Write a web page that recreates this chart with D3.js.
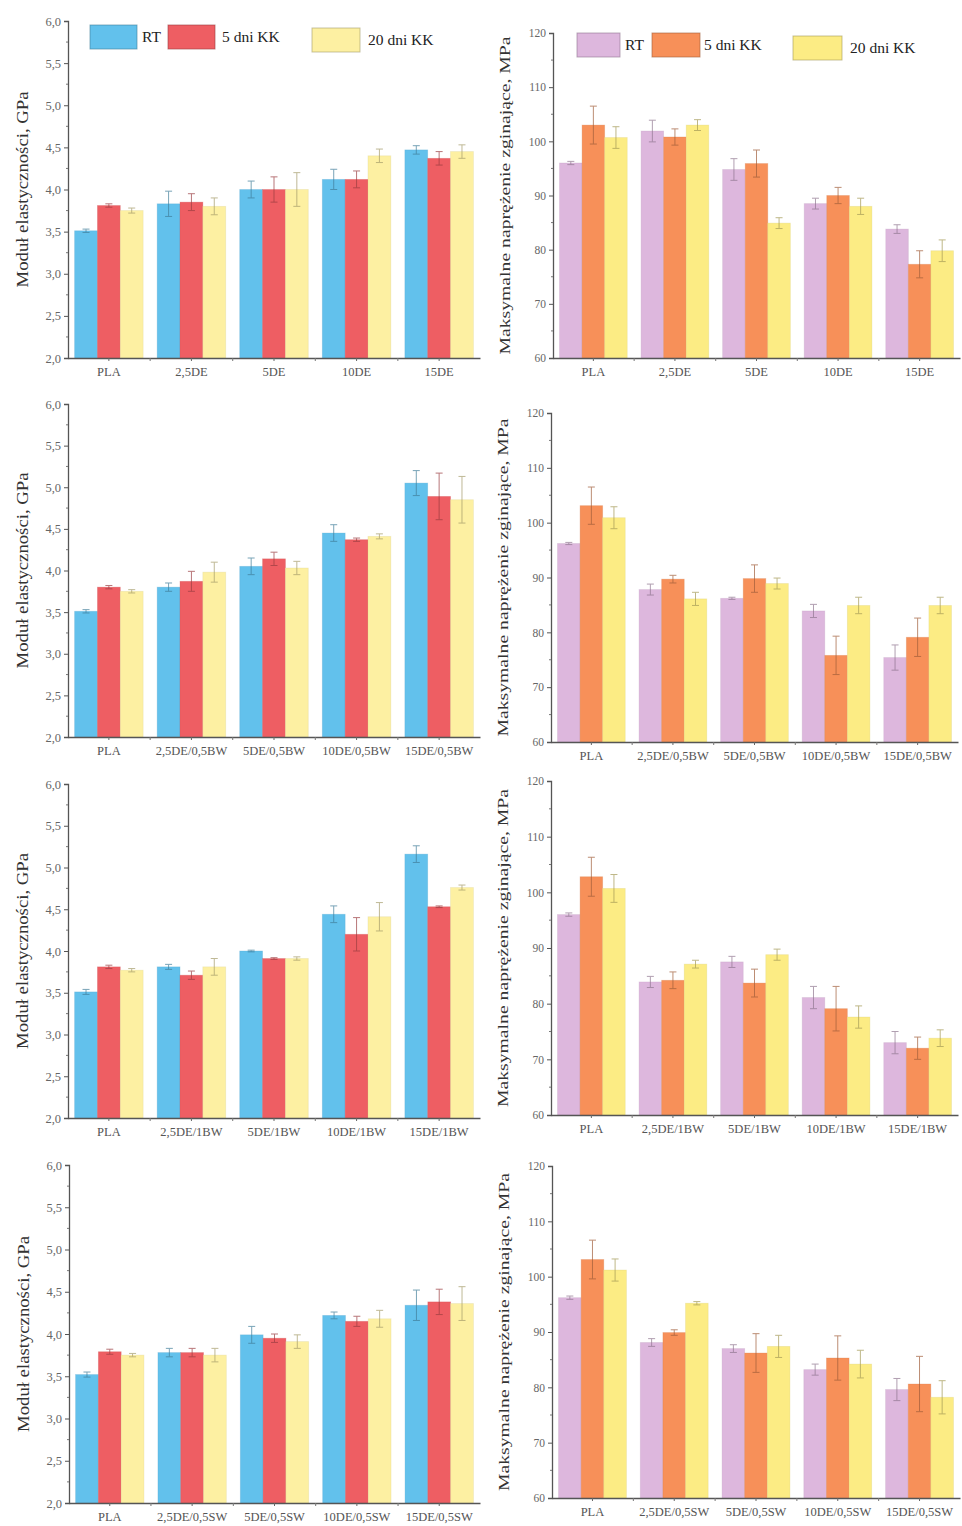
<!DOCTYPE html>
<html lang="pl">
<head>
<meta charset="UTF-8">
<script src="https://cdn.jsdelivr.net/npm/d3@7"></script>
<title>Moduł i naprężenie zginające</title>
<style>
    html, body {
        margin: 0;
        padding: 0;
        background: #ffffff;
    }
    svg text {
        font-family: "Liberation Serif", "DejaVu Serif", serif;
    }
</style>
</head>
<body>
<div id="chart"></div>
<script>

// categories
const categoriesDE   = ["PLA", "2,5DE", "5DE", "10DE", "15DE"];
const categoriesBW05 = ["PLA", "2,5DE/0,5BW", "5DE/0,5BW", "10DE/0,5BW", "15DE/0,5BW"];
const categoriesBW1  = ["PLA", "2,5DE/1BW", "5DE/1BW", "10DE/1BW", "15DE/1BW"];
const categoriesSW05 = ["PLA", "2,5DE/0,5SW", "5DE/0,5SW", "10DE/0,5SW", "15DE/0,5SW"];

const seriesNames = ["RT", "5 dni KK", "20 dni KK"];

const modulusTicks  = [2.0, 2.5, 3.0, 3.5, 4.0, 4.5, 5.0, 5.5, 6.0];
const strengthTicks = [60, 70, 80, 90, 100, 110, 120];

// values per series: [RT], [5 dni KK], [20 dni KK]
const modulusDE = [[3.51, 3.83, 4.00, 4.12, 4.47], [3.81, 3.85, 4.00, 4.12, 4.37], [3.75, 3.80, 4.00, 4.40, 4.45]];
const modulusDEErr = [[0.02, 0.15, 0.10, 0.12, 0.05], [0.02, 0.10, 0.15, 0.10, 0.08], [0.03, 0.10, 0.20, 0.08, 0.08]];
const strengthDE = [[96.0, 101.9, 94.8, 88.5, 83.8], [103.0, 100.8, 95.9, 90.0, 77.3], [100.7, 103.0, 84.9, 88.0, 79.8]];
const strengthDEErr = [[0.3, 2.0, 2.0, 1.0, 0.8], [3.5, 1.5, 2.5, 1.5, 2.5], [2.0, 1.0, 1.0, 1.5, 2.0]];

const modulusBW05 = [[3.51, 3.80, 4.05, 4.45, 5.05], [3.80, 3.87, 4.14, 4.37, 4.89], [3.75, 3.98, 4.03, 4.41, 4.85]];
const modulusBW05Err = [[0.02, 0.05, 0.10, 0.10, 0.15], [0.02, 0.12, 0.08, 0.02, 0.28], [0.02, 0.12, 0.08, 0.03, 0.28]];
const strengthBW05 = [[96.2, 87.8, 86.2, 83.9, 75.4], [103.1, 89.7, 89.8, 75.8, 79.1], [100.9, 86.1, 88.9, 84.9, 84.9]];
const strengthBW05Err = [[0.2, 1.0, 0.2, 1.2, 2.3], [3.4, 0.7, 2.5, 3.5, 3.5], [2.0, 1.2, 1.0, 1.5, 1.5]];

const modulusBW1 = [[3.51, 3.81, 4.00, 4.44, 5.16], [3.81, 3.71, 3.91, 4.20, 4.53], [3.77, 3.81, 3.91, 4.41, 4.76]];
const modulusBW1Err = [[0.03, 0.03, 0.01, 0.10, 0.10], [0.02, 0.05, 0.01, 0.20, 0.01], [0.02, 0.10, 0.02, 0.17, 0.03]];
const strengthBW1 = [[96.0, 83.9, 87.5, 81.1, 73.0], [102.8, 84.2, 83.7, 79.1, 72.0], [100.7, 87.1, 88.8, 77.6, 73.8]];
const strengthBW1Err = [[0.3, 1.0, 1.0, 2.0, 2.0], [3.5, 1.5, 2.5, 4.0, 2.0], [2.5, 0.7, 1.0, 2.0, 1.5]];

const modulusSW05 = [[3.52, 3.78, 3.99, 4.22, 4.34], [3.79, 3.78, 3.95, 4.15, 4.38], [3.75, 3.75, 3.91, 4.18, 4.36]];
const modulusSW05Err = [[0.03, 0.05, 0.10, 0.04, 0.18], [0.03, 0.05, 0.05, 0.06, 0.15], [0.02, 0.08, 0.08, 0.10, 0.20]];
const strengthSW05 = [[96.2, 88.1, 87.0, 83.2, 79.6], [103.1, 89.9, 86.2, 85.3, 80.6], [101.2, 95.2, 87.4, 84.2, 78.2]];
const strengthSW05Err = [[0.3, 0.7, 0.7, 1.0, 2.0], [3.5, 0.5, 3.5, 4.0, 5.0], [2.0, 0.3, 2.0, 2.5, 3.0]];

const modulusColors  = ["#62c1ec", "#ee5e63", "#fdf0a2"];
const strengthColors = ["#ddb7dd", "#f79059", "#fcec84"];

const width = 962, height = 1526;

const svg = d3.select("#chart").append("svg")
    .attr("width", width)
    .attr("height", height);

// one entry per panel: data + where it sits on the page
const panels = [
    {cats: categoriesDE,   vals: modulusDE,    errs: modulusDEErr,    kind: "mod", x0: 68,  x1: 480, y0: 21,   y1: 358,  legend: true},
    {cats: categoriesDE,   vals: strengthDE,   errs: strengthDEErr,   kind: "str", x0: 553, x1: 960, y0: 33,   y1: 358,  legend: true},
    {cats: categoriesBW05, vals: modulusBW05,  errs: modulusBW05Err,  kind: "mod", x0: 68,  x1: 480, y0: 404,  y1: 737},
    {cats: categoriesBW05, vals: strengthBW05, errs: strengthBW05Err, kind: "str", x0: 551, x1: 958, y0: 413,  y1: 742},
    {cats: categoriesBW1,  vals: modulusBW1,   errs: modulusBW1Err,   kind: "mod", x0: 68,  x1: 480, y0: 784,  y1: 1118},
    {cats: categoriesBW1,  vals: strengthBW1,  errs: strengthBW1Err,  kind: "str", x0: 551, x1: 958, y0: 781,  y1: 1115},
    {cats: categoriesSW05, vals: modulusSW05,  errs: modulusSW05Err,  kind: "mod", x0: 69,  x1: 480, y0: 1165, y1: 1503},
    {cats: categoriesSW05, vals: strengthSW05, errs: strengthSW05Err, kind: "str", x0: 552, x1: 960, y0: 1166, y1: 1498}
];

const fmt = d => d3.format(".1f")(d).replace(".", ",");

panels.forEach(p => {
    const isMod = p.kind === "mod";
    const colors = isMod ? modulusColors : strengthColors;
    const ticks = isMod ? modulusTicks : strengthTicks;

    const y = d3.scaleLinear()
        .domain(d3.extent(ticks))
        .range([p.y1, p.y0]);

    const x = d3.scaleBand()
        .domain(p.cats)
        .range([p.x0, p.x1])
        .paddingInner(0.17)
        .paddingOuter(0.08);

    const xs = d3.scaleBand()
        .domain(d3.range(seriesNames.length))
        .range([0, x.bandwidth()]);

    const g = svg.append("g");

    // bars
    const rows = [];
    p.vals.forEach((vals, s) => vals.forEach((v, i) => rows.push({s, i, v, e: p.errs[s][i]})));

    g.selectAll("rect.bar")
        .data(rows)
        .join("rect")
        .attr("class", "bar")
        .attr("x", d => x(p.cats[d.i]) + xs(d.s))
        .attr("y", d => y(d.v))
        .attr("width", xs.bandwidth())
        .attr("height", d => y(ticks[0]) - y(d.v))
        .attr("fill", d => colors[d.s])
        .attr("stroke", d => d3.color(colors[d.s]).darker(0.4))
        .attr("stroke-opacity", 0.35)
        .attr("stroke-width", 0.8);

    // error bars
    const eb = g.selectAll("g.err")
        .data(rows)
        .join("g")
        .attr("class", "err")
        .attr("stroke", d => d3.color(colors[d.s]).darker(1.2))
        .attr("stroke-width", 1)
        .attr("opacity", 0.7);

    const cx = d => x(p.cats[d.i]) + xs(d.s) + xs.bandwidth() / 2;
    eb.append("line")
        .attr("x1", cx).attr("x2", cx)
        .attr("y1", d => y(d.v - d.e)).attr("y2", d => y(d.v + d.e));
    eb.append("line")
        .attr("x1", d => cx(d) - 3.5).attr("x2", d => cx(d) + 3.5)
        .attr("y1", d => y(d.v + d.e)).attr("y2", d => y(d.v + d.e));
    eb.append("line")
        .attr("x1", d => cx(d) - 3.5).attr("x2", d => cx(d) + 3.5)
        .attr("y1", d => y(d.v - d.e)).attr("y2", d => y(d.v - d.e));

    // y axis
    const yAxis = g.append("g")
        .attr("transform", `translate(${p.x0},0)`)
        .call(d3.axisLeft(y).tickValues(ticks).tickFormat(isMod ? fmt : d3.format("d")).tickSize(4).tickPadding(3));
    yAxis.select(".domain").attr("stroke", "#555").attr("stroke-width", 1.3);
    yAxis.selectAll(".tick line").attr("stroke", "#555");
    yAxis.selectAll(".tick text")
        .attr("fill", "#666")
        .attr("font-size", isMod ? 12.5 : 11.5)
        .attr("font-family", "Liberation Serif, serif");

    // minor ticks
    const minor = d3.range(ticks.length - 1).map(k => (ticks[k] + ticks[k + 1]) / 2);
    g.append("g").selectAll("line")
        .data(minor)
        .join("line")
        .attr("x1", p.x0 - 2).attr("x2", p.x0)
        .attr("y1", d => y(d)).attr("y2", d => y(d))
        .attr("stroke", "#777");

    // x axis
    const xAxis = g.append("g")
        .attr("transform", `translate(0,${p.y1})`)
        .call(d3.axisBottom(x).tickSize(3).tickPadding(6).tickSizeOuter(0));
    xAxis.select(".domain").attr("stroke", "#555").attr("stroke-width", 1.3);
    xAxis.selectAll(".tick line").attr("stroke", "#666");
    xAxis.selectAll(".tick text")
        .attr("fill", "#555")
        .attr("font-size", 12.5)
        .attr("font-family", "Liberation Serif, serif");

    // between-group ticks
    g.append("g").selectAll("line")
        .data(p.cats.slice(1))
        .join("line")
        .attr("x1", d => x(d) - x.step() * x.paddingInner() / 2)
        .attr("x2", d => x(d) - x.step() * x.paddingInner() / 2)
        .attr("y1", p.y1).attr("y2", p.y1 + 3)
        .attr("stroke", "#777");

    // y title
    const title = isMod ? "Moduł elastyczności, GPa" : "Maksymalne naprężenie zginające, MPa";
    const tx = isMod ? p.x0 - 40 : p.x0 - 43;
    g.append("text")
        .attr("transform", `translate(${tx},${(p.y0 + p.y1) / 2}) rotate(-90)`)
        .attr("text-anchor", "middle")
        .attr("font-size", isMod ? 16 : 15.5)
        .attr("fill", "#333")
        .attr("textLength", isMod ? 196 : 318)
        .attr("lengthAdjust", "spacingAndGlyphs")
        .text(title);

    // legend (top row only)
    if (p.legend) {
        const pos = isMod
            ? [{rx: 90, rw: 47, tx: 142}, {rx: 168, rw: 47, tx: 222}, {rx: 312, rw: 48, tx: 368}]
            : [{rx: 577, rw: 43, tx: 625}, {rx: 652, rw: 48, tx: 704}, {rx: 793, rw: 49, tx: 850}];
        const ly = isMod ? 25 : 33;
        const leg = g.append("g").selectAll("g")
            .data(seriesNames)
            .join("g");
        leg.append("rect")
            .attr("x", (d, k) => pos[k].rx)
            .attr("y", (d, k) => ly + (k === 2 ? 3 : 0))
            .attr("width", (d, k) => pos[k].rw)
            .attr("height", 24)
            .attr("fill", (d, k) => colors[k])
            .attr("stroke", (d, k) => d3.color(colors[k]).darker(1.2))
            .attr("stroke-opacity", 0.6)
            .attr("stroke-width", 1);
        leg.append("text")
            .attr("x", (d, k) => pos[k].tx)
            .attr("y", (d, k) => ly + 17 + (k === 2 ? 3 : 0))
            .attr("font-size", 15.5)
            .attr("fill", "#222")
            .text(d => d);
    }
});

</script>
</body>
</html>
